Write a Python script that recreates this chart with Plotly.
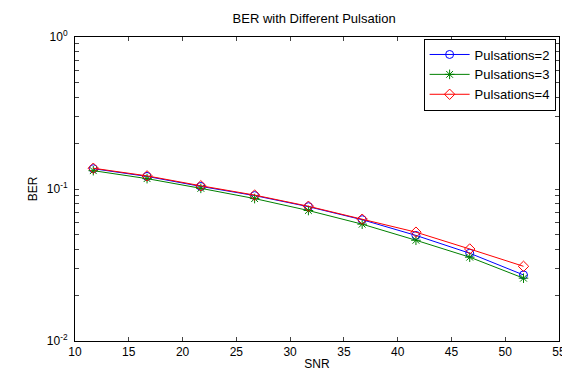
import plotly.graph_objects as go

snr = [11.7, 16.7, 21.7, 26.7, 31.7, 36.7, 41.7, 46.7, 51.7]
ber_p2 = [0.136, 0.121, 0.104, 0.0905, 0.0765, 0.0628, 0.0495, 0.0378, 0.0272]
ber_p3 = [0.132, 0.117, 0.101, 0.0865, 0.0722, 0.0587, 0.0460, 0.0356, 0.0259]
ber_p4 = [0.137, 0.122, 0.105, 0.0912, 0.0770, 0.0633, 0.0520, 0.0403, 0.0310]
names = ["Pulsations=2", "Pulsations=3", "Pulsations=4"]
colors = ["#0000ff", "#008000", "#ff0000"]
symbols = ["circle-open", "asterisk-open", "diamond-open"]

decades = [0.01, 0.1, 1]
decade_text = {0.01: "10<sup>-2</sup>", 0.1: "10<sup>-1</sup>", 1: "10<sup>0</sup>"}
y_tickvals = [0.01] + [m * d for d in (0.01, 0.1) for m in range(2, 11)]
y_ticktext = []
for v in y_tickvals:
    key = min(decades, key=lambda d: abs(d - v) / d)
    y_ticktext.append(decade_text[key] if abs(key - v) / key < 1e-9 else "")
x_tickvals = [10, 15, 20, 25, 30, 35, 40, 45, 50, 55]

fig = go.Figure()
for ys, n, c, s in zip([ber_p2, ber_p3, ber_p4], names, colors, symbols):
    fig.add_trace(go.Scatter(
        x=snr, y=ys, name=n, mode="lines+markers",
        line=dict(color=c, width=1),
        marker=dict(symbol=s, size=8, color=c, line=dict(color=c, width=1)),
    ))

font = "Liberation Sans, Arial, sans-serif"
fig.update_layout(
    width=570, height=373,
    margin=dict(l=67, r=12, t=29, b=31),
    paper_bgcolor="white", plot_bgcolor="white",
    font=dict(family=font, size=12, color="black"),
    title=dict(text="BER with Different Pulsation", x=0.537, xanchor="center",
               y=0.985, yanchor="top", font=dict(size=13)),
    showlegend=True,
    legend=dict(x=0.993, xanchor="right", y=0.995, yanchor="top",
                bordercolor="black", borderwidth=1, bgcolor="white",
                font=dict(size=13), tracegroupgap=0, itemwidth=40),
)
fig.update_xaxes(
    range=[10, 55], tickvals=x_tickvals, ticks="inside", ticklen=4,
    showline=True, linecolor="black", linewidth=1, mirror="ticks",
    showgrid=False, zeroline=False, tickfont=dict(size=12),
    title=dict(text="SNR", standoff=1, font=dict(size=12)),
)
fig.update_yaxes(
    type="log", range=[-2, 0], tickmode="array", tickvals=y_tickvals,
    ticktext=y_ticktext, ticks="inside", ticklen=4, tickfont=dict(size=12),
    ticklabelstandoff=4,
    showline=True, linecolor="black", linewidth=1, mirror="ticks",
    showgrid=False, zeroline=False,
    title=dict(text="BER", standoff=6, font=dict(size=12)),
)

fig.write_html("out.html")
